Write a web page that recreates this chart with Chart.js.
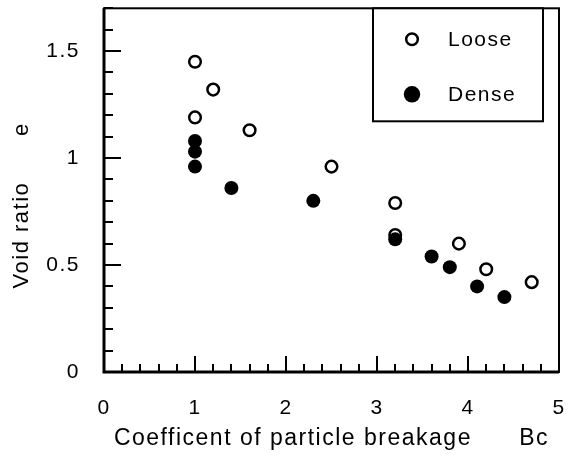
<!DOCTYPE html>
<html>
<head>
<meta charset="utf-8">
<script src="https://cdn.jsdelivr.net/npm/chart.js@4.4.0/dist/chart.umd.min.js"></script>
<style>
    body { margin: 0; background: #fff; }
    #wrap { width: 573px; height: 458px; }
</style>
</head>
<body>
<div id="wrap"><canvas id="chart" width="573" height="458"></canvas></div>
<script>
var looseBc = [1.0, 1.2, 1.0, 1.6, 2.5, 3.2, 3.2, 3.9, 4.2, 4.7];
var looseE = [1.45, 1.32, 1.19, 1.13, 0.96, 0.79, 0.64, 0.60, 0.48, 0.42];
var denseBc = [1.0, 1.0, 1.0, 1.4, 2.3, 3.2, 3.6, 3.8, 4.1, 4.4];
var denseE = [1.08, 1.03, 0.96, 0.86, 0.80, 0.62, 0.54, 0.49, 0.40, 0.35];

var xTicks = [0, 1, 2, 3, 4, 5];
var yTicks = [0, 0.5, 1, 1.5];
var seriesNames = ["Loose", "Dense"];

var FONT = "'Liberation Sans', Arial, Helvetica, sans-serif";
var INK = '#000';

function toPoints(xs, ys) {
    return xs.map((x, i) => ({ x: x, y: ys[i] }));
}

// no extra room for overflowing tick labels, the plot box is fixed
function fixScale(s, size) {
    if (s.isHorizontal()) {
        s.height = size;
    } else {
        s.width = size;
    }
    s.paddingTop = 0;
    s.paddingBottom = 0;
    s.paddingLeft = 0;
    s.paddingRight = 0;
}

// the lettering is a little spaced out
var spacingPlugin = {
    id: 'spacing',
    beforeUpdate(chart) {
        chart.ctx.letterSpacing = '1.5px';
    }
};

// frame, inward ticks (major + minor) and the boxed legend
var framePlugin = {
    id: 'frame',
    afterDatasetsDraw(chart) {
        var ctx = chart.ctx;
        var a = chart.chartArea;
        var xs = chart.scales.x;
        var ys = chart.scales.y;

        ctx.save();
        ctx.strokeStyle = INK;
        ctx.lineCap = 'butt';

        ctx.lineWidth = 2;
        for (var v = 0; v <= 5.001; v += 0.2) {
            var px = Math.round(xs.getPixelForValue(v));
            var major = Math.abs(v - Math.round(v)) < 0.01;
            ctx.beginPath();
            ctx.moveTo(px, a.bottom);
            ctx.lineTo(px, a.bottom - (major ? 16 : 8));
            ctx.stroke();
        }
        for (var w = 0; w <= 1.701; w += 0.1) {
            var py = Math.round(ys.getPixelForValue(w));
            var big = Math.abs(w * 2 - Math.round(w * 2)) < 0.01;
            ctx.beginPath();
            ctx.moveTo(a.left, py);
            ctx.lineTo(a.left + (big ? 17 : 9), py);
            ctx.stroke();
        }

        ctx.lineWidth = 2;
        ctx.strokeRect(a.left, a.top, a.right - a.left, a.bottom - a.top);
        ctx.lineWidth = 3;
        ctx.beginPath();
        ctx.moveTo(a.left, a.top);
        ctx.lineTo(a.left, a.bottom);
        ctx.lineTo(a.right, a.bottom);
        ctx.stroke();

        // legend box in the top right corner
        var bw = 170, bh = 113;
        var bx = a.right - 16 - bw;
        var by = a.top;
        ctx.fillStyle = '#fff';
        ctx.fillRect(bx, by, bw, bh);
        ctx.lineWidth = 2;
        ctx.strokeRect(bx, by, bw, bh);

        ctx.font = '21px ' + FONT;
        ctx.textBaseline = 'middle';
        ctx.textAlign = 'left';
        chart.data.datasets.forEach((ds, i) => {
            var cy = by + 31 + i * 55;
            var cx = bx + 39;
            ctx.beginPath();
            ctx.arc(cx, cy, ds.pointRadius, 0, Math.PI * 2);
            ctx.fillStyle = ds.pointBackgroundColor;
            ctx.fill();
            ctx.lineWidth = ds.pointBorderWidth;
            ctx.strokeStyle = ds.pointBorderColor;
            ctx.stroke();
            ctx.fillStyle = INK;
            ctx.fillText(ds.label, bx + 75, cy + 1);
        });
        ctx.restore();
    }
};

new Chart(document.getElementById('chart'), {
    type: 'scatter',
    data: {
        datasets: [
            {
                label: seriesNames[0],
                data: toPoints(looseBc, looseE),
                pointRadius: 5.8,
                pointBackgroundColor: '#fff',
                pointBorderColor: INK,
                pointBorderWidth: 2.5,
                order: 1
            },
            {
                label: seriesNames[1],
                data: toPoints(denseBc, denseE),
                pointRadius: 7,
                pointBackgroundColor: INK,
                pointBorderColor: INK,
                pointBorderWidth: 0,
                order: 0
            }
        ]
    },
    options: {
        responsive: false,
        animation: false,
        devicePixelRatio: 1,
        layout: { padding: { top: 5, right: 14, left: 0, bottom: 0 } },
        plugins: {
            legend: { display: false },
            tooltip: { enabled: false }
        },
        scales: {
            x: {
                type: 'linear',
                min: 0,
                max: 5,
                afterBuildTicks: s => { s.ticks = xTicks.map(v => ({ value: v })); },
                afterFit: s => fixScale(s, 86),
                ticks: {
                    callback: v => String(v),
                    color: INK,
                    font: { family: FONT, size: 21 },
                    padding: 24
                },
                grid: { display: false, drawTicks: false },
                border: { display: false },
                title: {
                    display: true,
                    text: 'Coefficent of particle breakage      Bc',
                    color: INK,
                    font: { family: FONT, size: 23 },
                    padding: { top: 0, bottom: 6 }
                }
            },
            y: {
                min: 0,
                max: 1.7,
                afterBuildTicks: s => { s.ticks = yTicks.map(v => ({ value: v })); },
                afterFit: s => fixScale(s, 104),
                ticks: {
                    callback: v => String(v),
                    color: INK,
                    font: { family: FONT, size: 21 },
                    padding: 24
                },
                grid: { display: false, drawTicks: false },
                border: { display: false },
                title: {
                    display: true,
                    text: 'Void ratio      e    ',
                    color: INK,
                    font: { family: FONT, size: 22 },
                    padding: { top: 9, bottom: 0 }
                }
            }
        }
    },
    plugins: [spacingPlugin, framePlugin]
});
</script>
</body>
</html>
